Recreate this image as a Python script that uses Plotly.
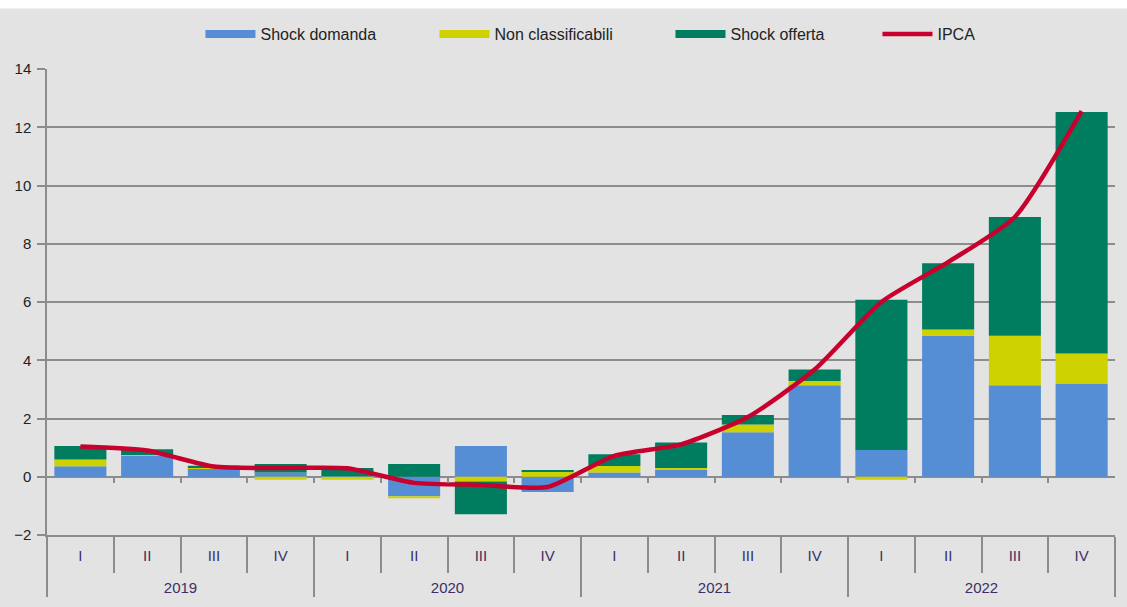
import plotly.graph_objects as go

years = ["2019"] * 4 + ["2020"] * 4 + ["2021"] * 4 + ["2022"] * 4
quarters = ["I", "II", "III", "IV"] * 4

shock_domanda = [0.36, 0.73, 0.29, 0.15, 0.02, -0.67, 1.06, -0.52,
                 0.15, 0.23, 1.53, 3.14, 0.92, 4.84, 3.14, 3.20]
non_classificabili = [0.23, 0.02, 0.01, -0.10, -0.10, -0.07, -0.16, 0.17,
                      0.22, 0.07, 0.26, 0.15, -0.10, 0.22, 1.70, 1.03]
shock_offerta = [0.47, 0.19, 0.08, 0.29, 0.28, 0.44, -1.13, 0.06,
                 0.40, 0.88, 0.33, 0.39, 5.16, 2.27, 4.08, 8.29]
ipca = [1.04, 0.90, 0.35, 0.30, 0.29, -0.21, -0.28, -0.35,
        0.72, 1.11, 2.05, 3.68, 6.00, 7.37, 8.92, 12.55]

BG = "#e3e3e3"
GRID = "#8c8c8c"
colors = {"Shock domanda": "#558ed5", "Non classificabili": "#cdd200",
          "Shock offerta": "#007c5f"}
legend_w = {"Shock domanda": 169, "Non classificabili": 171, "Shock offerta": 142}

# year labels sit one line lower than the quarter labels
x = [["<br>" + y for y in years], quarters]
n = len(quarters)

fig = go.Figure()
for name, vals in [("Shock domanda", shock_domanda),
                   ("Non classificabili", non_classificabili),
                   ("Shock offerta", shock_offerta)]:
    fig.add_trace(go.Bar(x=x, y=vals, name=name, legendgroup=name, showlegend=False,
                         marker=dict(color=colors[name], line=dict(width=0))))
    # legend entry drawn as a wide flat rectangle, like the original
    fig.add_trace(go.Scatter(x=[None], y=[None], name=name, legendgroup=name,
                             legendwidth=legend_w[name],
                             mode="lines", line=dict(color=colors[name], width=8)))

fig.add_trace(go.Scatter(x=x, y=ipca, name="IPCA", mode="lines",
                         line=dict(color="#c8002d", width=4.5, shape="spline", smoothing=0.6)))

# empty trace on a second x axis, only to draw the small ticks on the zero line
fig.add_trace(go.Scatter(x=[None], y=[None], xaxis="x2", showlegend=False, hoverinfo="skip"))

fig.update_layout(
    width=1127, height=607,
    barmode="relative",
    bargap=0.22,
    paper_bgcolor=BG,
    plot_bgcolor=BG,
    margin=dict(l=47, r=12, t=69, b=69),
    font=dict(family="Liberation Sans, Arial, sans-serif", size=15, color="#222"),
    legend=dict(orientation="h", x=0.1437, xanchor="left", y=1.075, yanchor="middle",
                font=dict(size=16, color="#222"), bgcolor="rgba(0,0,0,0)",
                traceorder="normal", itemwidth=50),
    xaxis2=dict(overlaying="x", anchor="free", position=0.125, range=[-0.5, n - 0.5],
                tickmode="array", tickvals=[i + 0.5 for i in range(n - 1)],
                showticklabels=False, showgrid=False, showline=False, zeroline=False,
                ticks="outside", ticklen=5, tickcolor=GRID, tickwidth=1.5),
)

fig.update_yaxes(
    range=[-2, 14], dtick=2, showgrid=True, gridcolor=GRID, gridwidth=1.5,
    zeroline=True, zerolinecolor=GRID, zerolinewidth=1.5,
    showline=True, linecolor=GRID, linewidth=1.5,
    ticks="outside", ticklen=8, tickcolor=GRID, tickwidth=1.5,
    ticklabelstandoff=3,
    tickfont=dict(size=15, color="#222"),
)
fig.update_layout(xaxis=dict(
    type="multicategory", showgrid=False,
    showline=True, linecolor=GRID, linewidth=1.5,
    ticks="outside", ticklen=36, tickcolor=GRID, tickwidth=1.5,
    ticklabelstandoff=6,
    showdividers=True, dividercolor=GRID, dividerwidth=1.5,
    tickfont=dict(size=15, color="#3a2f66"),
))

# white strip along the top edge of the picture
fig.add_shape(type="rect", xref="paper", yref="paper", x0=-0.1, x1=1.1,
              y0=1.13, y1=1.2, fillcolor="white", line=dict(width=0), layer="below")

fig.write_html("out.html", config={"displayModeBar": False},
               post_script="document.body.style.margin='0';")
